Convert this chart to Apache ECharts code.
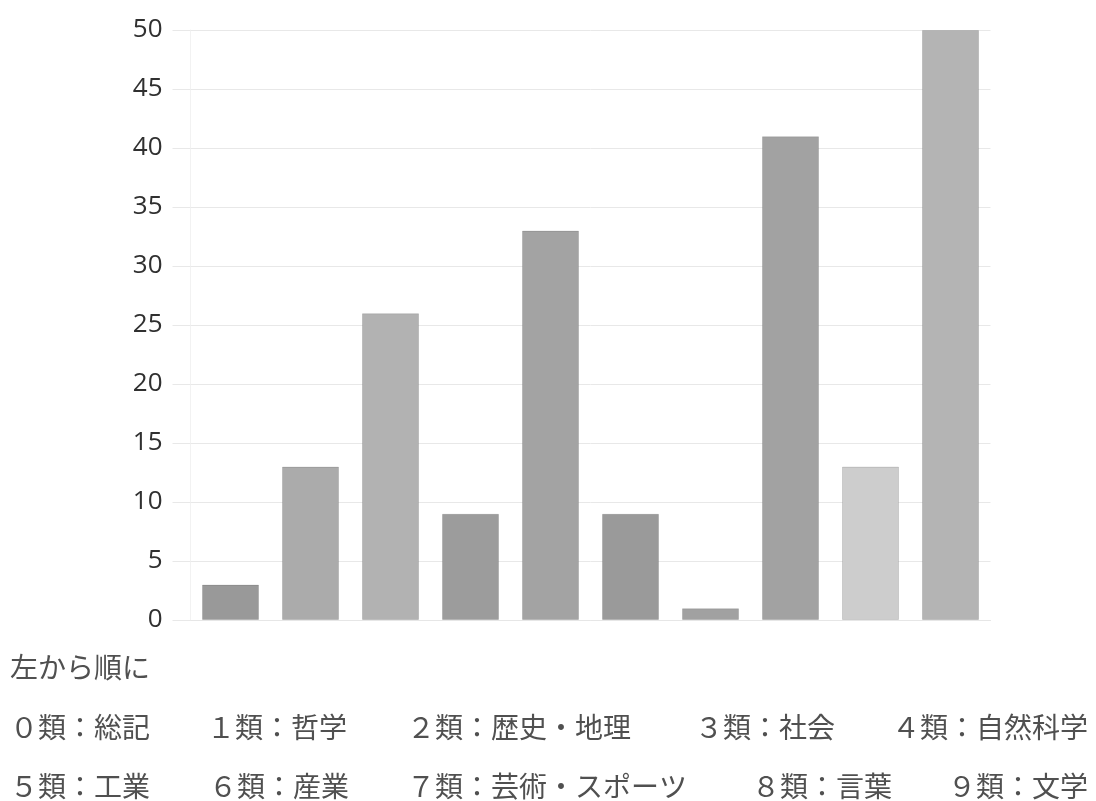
<!DOCTYPE html>
<html>
<head>
<meta charset="utf-8">
<script src="https://cdn.jsdelivr.net/npm/echarts@6/dist/echarts.min.js"></script>
<style>
  html, body { margin: 0; padding: 0; background: #fff; }
  #chart { width: 1096px; height: 801px; }
</style>
</head>
<body>
<div id="chart"></div>
<script>
// Books borrowed per NDC class, left to right 0類 … 9類
const categories = ['0類', '1類', '2類', '3類', '4類', '5類', '6類', '7類', '8類', '9類'];
const counts = [3, 13, 26, 9, 33, 9, 1, 41, 13, 50];
const yTicks = [0, 5, 10, 15, 20, 25, 30, 35, 40, 45, 50];

// Caption underneath the bars
const captionIntro = '左から順に';
const captionRow1 = ['０類：総記', '１類：哲学', '２類：歴史・地理', '３類：社会', '４類：自然科学'];
const captionRow2 = ['５類：工業', '６類：産業', '７類：芸術・スポーツ', '８類：言葉', '９類：文学'];

// Per-bar grey tones
const barTones = ['#999999', '#ababab', '#b2b2b2', '#9c9c9c', '#a3a3a3',
                  '#9a9a9a', '#a1a1a1', '#a2a2a2', '#cdcdcd', '#b4b4b4'];

const chart = echarts.init(document.getElementById('chart'));

const captionFont = '28px "Noto Sans CJK JP", sans-serif';
const captionColor = '#505050';
const row1X = [10, 207, 407, 695, 892];
const row2X = [10, 209, 407, 752, 948];

const graphics = [
  { type: 'text', left: 10, top: 653, style: { text: captionIntro, font: captionFont, fill: captionColor } }
];
captionRow1.forEach((t, i) => graphics.push({
  type: 'text', left: row1X[i], top: 713, style: { text: t, font: captionFont, fill: captionColor }
}));
captionRow2.forEach((t, i) => graphics.push({
  type: 'text', left: row2X[i], top: 772, style: { text: t, font: captionFont, fill: captionColor }
}));

chart.setOption({
  backgroundColor: '#ffffff',
  animation: false,
  grid: { left: 190.5, right: 105.5, top: 30, bottom: 181, containLabel: false },
  xAxis: {
    type: 'category',
    data: categories,
    axisLine: { show: true, lineStyle: { color: '#e6e6e6' } },
    axisTick: { show: false },
    axisLabel: { show: false }
  },
  yAxis: {
    type: 'value',
    min: yTicks[0],
    max: yTicks[yTicks.length - 1],
    interval: yTicks[1] - yTicks[0],
    axisLine: { show: true, lineStyle: { color: '#f2f2f2' } },
    axisTick: { show: true, length: 18, lineStyle: { color: '#e8e8e8' } },
    axisLabel: {
      margin: 28,
      color: '#303030',
      fontSize: 26,
      fontFamily: '"Open Sans", sans-serif'
    },
    splitLine: { show: true, lineStyle: { color: '#e8e8e8' } }
  },
  series: [{
    type: 'bar',
    data: counts.map((v, i) => ({ value: v, itemStyle: { color: barTones[i] } })),
    barWidth: 57,
    itemStyle: { borderColor: 'rgba(0,0,0,0.12)', borderWidth: 1 }
  }],
  graphic: graphics
});
</script>
</body>
</html>
